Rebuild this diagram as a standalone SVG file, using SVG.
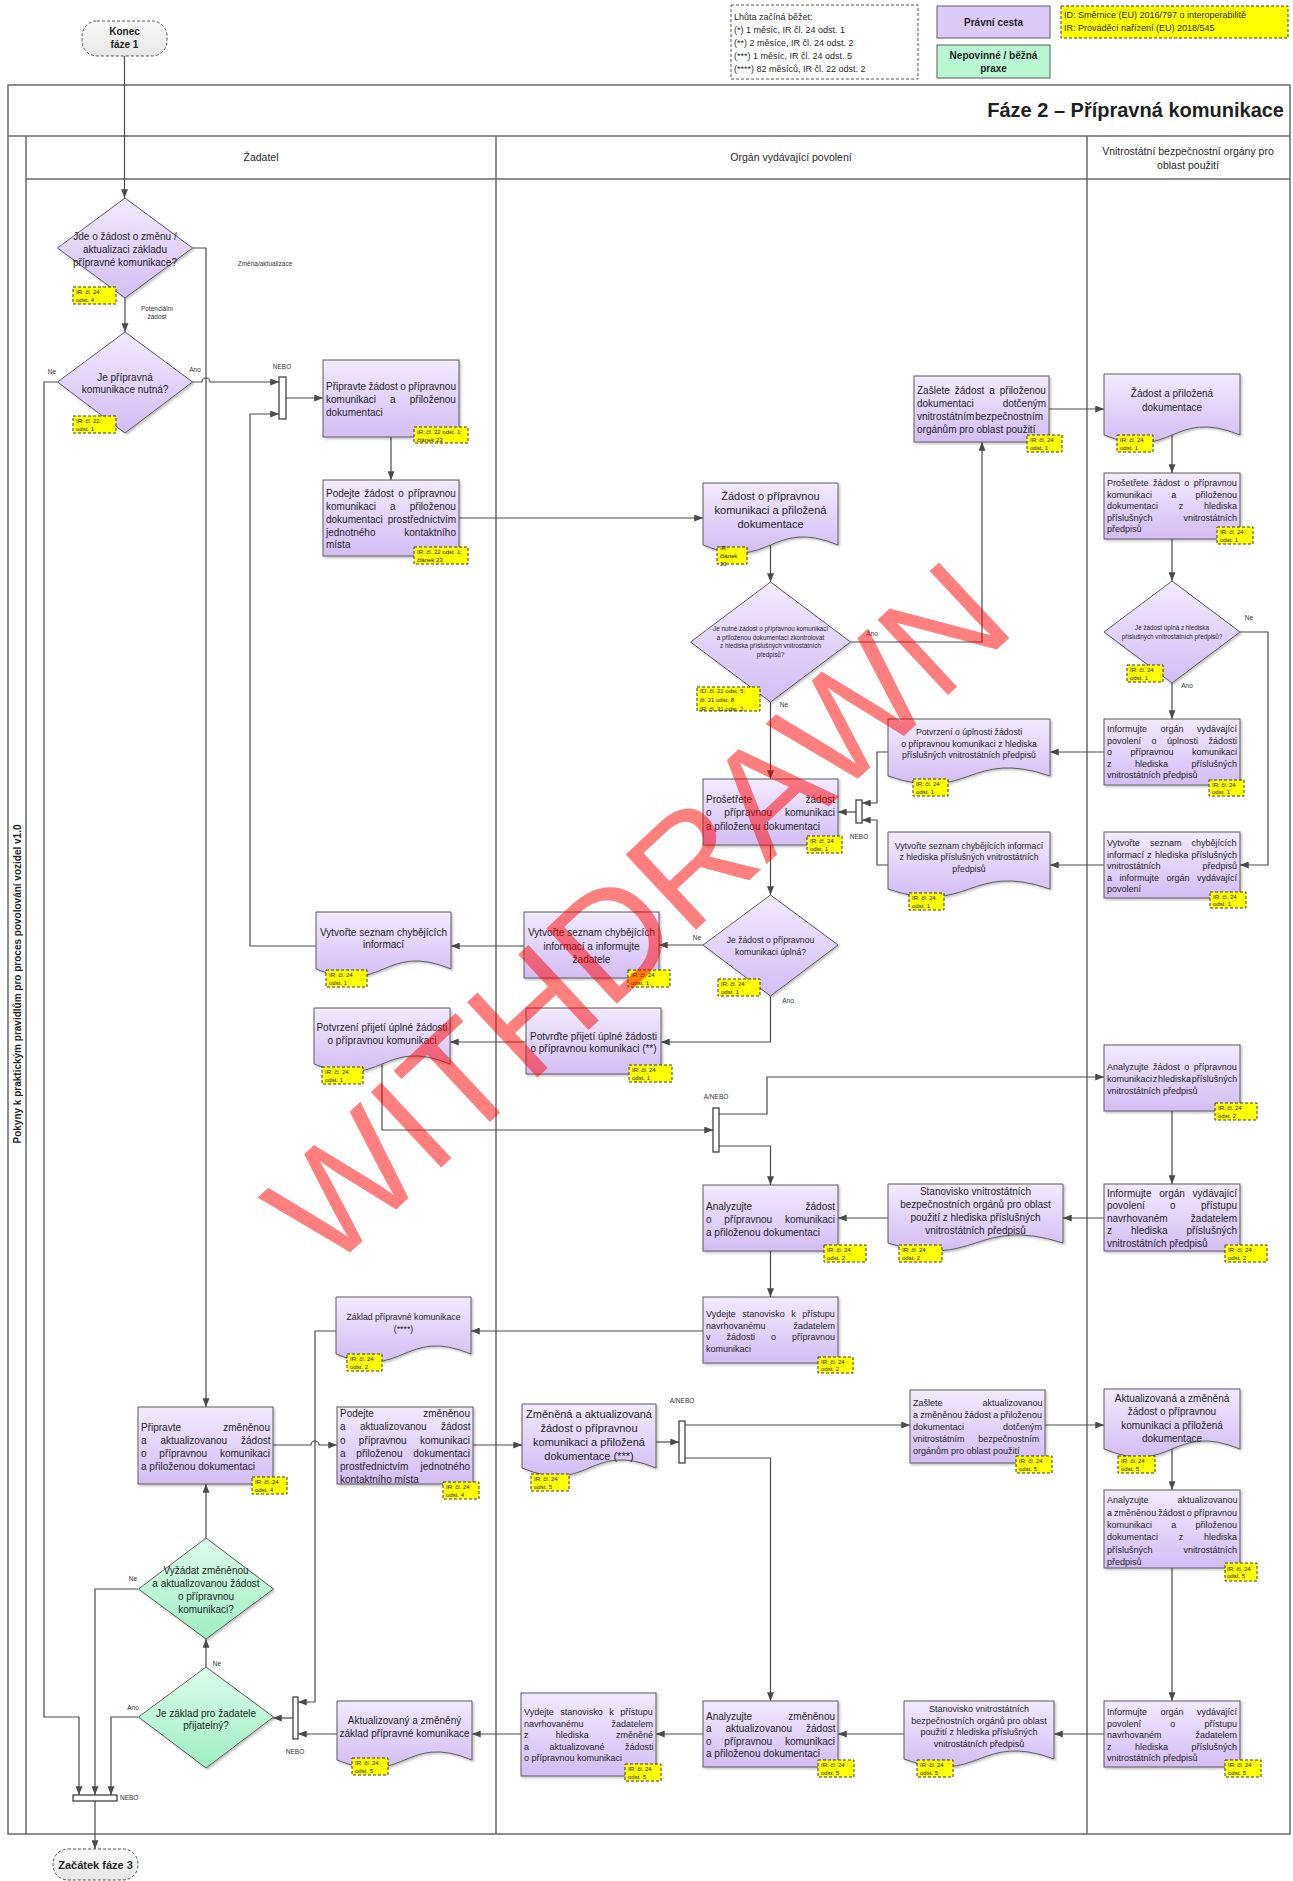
<svg xmlns="http://www.w3.org/2000/svg" width="1293" height="1881" viewBox="0 0 1293 1881">
<defs>
<linearGradient id="gp" x1="0" y1="0" x2="0" y2="1"><stop offset="0" stop-color="#f2eafe"/><stop offset="1" stop-color="#d3bdf5"/></linearGradient>
<linearGradient id="gg" x1="0" y1="0" x2="0" y2="1"><stop offset="0" stop-color="#dcfce9"/><stop offset="1" stop-color="#9eefc2"/></linearGradient>
<linearGradient id="gt" x1="0" y1="0" x2="0" y2="1"><stop offset="0" stop-color="#fbfbfb"/><stop offset="1" stop-color="#e6e6e6"/></linearGradient>
<marker id="ah" viewBox="0 0 10 8" refX="10" refY="4" markerWidth="9" markerHeight="7" markerUnits="userSpaceOnUse" orient="auto"><path d="M0 0L10 4L0 8z" fill="#4a4a4a"/></marker>
<filter id="sh" x="-10%" y="-10%" width="130%" height="130%"><feDropShadow dx="1.5" dy="1.5" stdDeviation="1" flood-color="#000" flood-opacity="0.25"/></filter>
</defs>
<style>
.t{font-family:"Liberation Sans",Arial,sans-serif;fill:#1f1f1f}
.b{font-weight:bold}
.f6{font-size:6px;fill:#222}
.l{font-size:6.5px;fill:#333}
.f63{font-size:6.3px}
.f87{font-size:8.7px}
.f9{font-size:9px}
.f10{font-size:10px}
.f105{font-size:10.5px}
.f11{font-size:11px}
.c{text-anchor:middle}
.n{fill:url(#gp);stroke:#5c5c5c;stroke-width:1;filter:url(#sh)}
.gn{fill:url(#gg);stroke:#5c5c5c;stroke-width:1;filter:url(#sh)}
.tg{fill:#ffff00;stroke:#3c3c3c;stroke-width:1;stroke-dasharray:3 2}
.cn{fill:none;stroke:#4a4a4a;stroke-width:1.2;marker-end:url(#ah)}
.ln{fill:none;stroke:#6a6a6a;stroke-width:1.5}
.bar{fill:#fff;stroke:#333;stroke-width:1.2}
.term{fill:url(#gt);stroke:#555;stroke-width:1;stroke-dasharray:3 2}
</style>

<g id="legend">
<rect x="731" y="5" width="187" height="74" fill="#fff" stroke="#555" stroke-dasharray="3 2"/>
<text class="t f9" x="734" y="20">Lhůta začíná běžet:</text>
<text class="t f9" x="734" y="33">(*) 1 měsíc, IR čl. 24 odst. 1</text>
<text class="t f9" x="734" y="46">(**) 2 měsíce, IR čl. 24 odst. 2</text>
<text class="t f9" x="734" y="59">(***) 1 měsíc, IR čl. 24 odst. 5</text>
<text class="t f9" x="734" y="72">(****) 82 měsíců, IR čl. 22 odst. 2</text>
<rect x="937" y="6" width="113" height="32" fill="#dccaf8" stroke="#5c5c5c"/>
<text class="t b f10 c" x="993.5" y="25.5">Právní cesta</text>
<rect x="937" y="45" width="113" height="33" fill="#b9f6d2" stroke="#5c5c5c"/>
<text class="t b f10 c" x="993.5" y="58.5">Nepovinné / běžná</text>
<text class="t b f10 c" x="993.5" y="72">praxe</text>
<rect x="1061" y="6" width="227" height="32" fill="#ffff00" stroke="#3c3c3c" stroke-dasharray="3 2"/>
<text class="t f9" x="1064" y="18">ID: Směrnice (EU) 2016/797 o interoperabilitě</text>
<text class="t f9" x="1064" y="31">IR: Prováděcí nařízení (EU) 2018/545</text>
</g>

<g id="pool">
<rect x="8" y="85" width="1282" height="1749" fill="#fff" stroke="#6a6a6a" stroke-width="1.5"/>
<path class="ln" d="M8 136H1290M26 136V1834M26 179H1290M496 136V1834M1087 136V1834"/>
<text class="t b" x="1284" y="117" font-size="20" text-anchor="end">Fáze 2 – Přípravná komunikace</text>
<text class="t b f10 c" transform="translate(20.5 984) rotate(-90)">Pokyny k praktickým pravidlům pro proces povolování vozidel v1.0</text>
<text class="t f105 c" x="261" y="161">Žadatel</text>
<text class="t f105 c" x="791" y="161">Orgán vydávající povolení</text>
<text class="t f105 c" x="1188" y="155">Vnitrostátní bezpečnostní orgány pro</text>
<text class="t f105 c" x="1188" y="169">oblast použití</text>
</g>

<g id="connectors">
<path class="cn" d="M124.5 56V198"/>
<path class="cn" d="M125 298V332"/>
<path class="cn" d="M192.5 248H206V1407"/>
<path class="cn" d="M192.5 382H202A4 4 0 0 1 210 382H279"/>
<path class="cn" d="M57.5 382H44V1717H79V1795"/>
<path class="cn" d="M286 398H323"/>
<path class="cn" d="M391 437V480"/>
<path class="cn" d="M459 518H703"/>
<path class="cn" d="M770.5 545V582"/>
<path class="cn" d="M850.5 642H982V442"/>
<path class="cn" d="M1049 409H1104"/>
<path class="cn" d="M1172 435V473"/>
<path class="cn" d="M1172 539V581"/>
<path class="cn" d="M1172 683V719"/>
<path class="cn" d="M1240 632H1268V865H1240"/>
<path class="cn" d="M1104 752H1050"/>
<path class="cn" d="M1104 865H1050"/>
<path class="cn" d="M888 752H877V803H862"/>
<path class="cn" d="M888 865H877V820H862"/>
<path class="cn" d="M856 812H838"/>
<path class="cn" d="M770.5 702V779"/>
<path class="cn" d="M770.5 845V895"/>
<path class="cn" d="M703 945H659"/>
<path class="cn" d="M524 946H451"/>
<path class="cn" d="M316 946H250V414H279"/>
<path class="cn" d="M770.5 996V1042H661"/>
<path class="cn" d="M526 1042H450"/>
<path class="cn" d="M382 1064V1130H713"/>
<path class="cn" d="M719 1114H767V1077H1104"/>
<path class="cn" d="M719 1146H770.5V1185"/>
<path class="cn" d="M1172 1111V1184"/>
<path class="cn" d="M1104 1218H1063"/>
<path class="cn" d="M888 1218H838"/>
<path class="cn" d="M770.5 1251V1297"/>
<path class="cn" d="M703 1331H471"/>
<path class="cn" d="M336 1331H315V1702H298"/>
<path class="cn" d="M273 1445H311A4 4 0 0 1 319 1445H337"/>
<path class="cn" d="M473 1445H522"/>
<path class="cn" d="M656 1442H679"/>
<path class="cn" d="M685 1425H910"/>
<path class="cn" d="M685 1458H770.5V1701"/>
<path class="cn" d="M1045 1425H1104"/>
<path class="cn" d="M1172 1449V1490"/>
<path class="cn" d="M1172 1568V1701"/>
<path class="cn" d="M1104 1734H1054"/>
<path class="cn" d="M904 1734H838"/>
<path class="cn" d="M703 1734H656"/>
<path class="cn" d="M521 1734H472"/>
<path class="cn" d="M337 1734H298"/>
<path class="cn" d="M293 1718H273"/>
<path class="cn" d="M206 1667V1639"/>
<path class="cn" d="M206 1538V1484"/>
<path class="cn" d="M138 1589H95V1795"/>
<path class="cn" d="M138 1717H111V1795"/>
<path class="cn" d="M95 1801V1849"/>
<text class="t l c" x="157" y="311">Potenciální</text>
<text class="t l c" x="157" y="319">žádost</text>
<text class="t l c" x="265" y="266">Změna/aktualizace</text>
<text class="t l c" x="195" y="372">Ano</text>
<text class="t l c" x="52" y="374">Ne</text>
<text class="t l c" x="282" y="369">NEBO</text>
<text class="t l c" x="872" y="636">Ano</text>
<text class="t l c" x="784" y="707">Ne</text>
<text class="t l c" x="1249" y="620">Ne</text>
<text class="t l c" x="1187" y="688">Ano</text>
<text class="t l c" x="859" y="839">NEBO</text>
<text class="t l c" x="697" y="940">Ne</text>
<text class="t l c" x="788" y="1003">Ano</text>
<text class="t l c" x="716" y="1099">A/NEBO</text>
<text class="t l c" x="682" y="1403">A/NEBO</text>
<text class="t l c" x="133" y="1581">Ne</text>
<text class="t l c" x="133" y="1710">Ano</text>
<text class="t l c" x="217" y="1666">Ne</text>
<text class="t l c" x="295" y="1754">NEBO</text>
<text class="t l" x="120" y="1800">NEBO</text>
</g>

<g id="n-konec">
<rect class="term" x="82" y="21" width="85" height="35" rx="15"/>
<text class="t b f10 c" x="124.5" y="35">Konec</text>
<text class="t b f10 c" x="124.5" y="48">fáze 1</text>
</g>

<g id="n-d1">
<polygon class="n" points="125,198 192.5,248 125,298 57.5,248"/>
<text class="t f10 c" x="125" y="239.5">Jde o žádost o změnu /</text>
<text class="t f10 c" x="125" y="252.5">aktualizaci základu</text>
<text class="t f10 c" x="125" y="265.5">přípravné komunikace?</text>
<rect class="tg" x="73" y="287" width="43" height="17"/>
<text class="t f6" x="76" y="294.3">IR: čl. 24</text><text class="t f6" x="76" y="301.8">odst. 4</text>
</g>

<g id="n-d2">
<polygon class="n" points="125,332 192.5,382 125,433 57.5,382"/>
<text class="t f10 c" x="125" y="380.5">Je přípravná</text>
<text class="t f10 c" x="125" y="392.5">komunikace nutná?</text>
<rect class="tg" x="73" y="416" width="43" height="17"/>
<text class="t f6" x="76" y="423.3">IR: čl. 22</text><text class="t f6" x="76" y="430.8">odst. 1</text>
</g>

<g id="bars">
<rect class="bar" x="279" y="377" width="7" height="42"/>
<rect class="bar" x="293" y="1697" width="5" height="42"/>
<rect class="bar" x="73" y="1795" width="44" height="6"/>
<rect class="bar" x="856" y="800" width="6" height="23"/>
<rect class="bar" x="713" y="1108" width="6" height="44"/>
<rect class="bar" x="679" y="1421" width="6" height="42"/>
</g>

<g id="n-pripravte">
<rect class="n" x="323" y="360" width="136" height="77"/>
<text class="t f10" x="326" y="389.5" style="word-spacing:-0.4px">Připravte žádost o přípravnou</text>
<text class="t f10" x="326" y="402.5" style="word-spacing:11.3px">komunikaci a přiloženou</text>
<text class="t f10" x="326" y="415.5">dokumentaci</text>
<rect class="tg" x="414" y="427" width="54" height="16"/>
<text class="t f6" x="417" y="434.3">IR: čl. 22 odst. 1;</text><text class="t f6" x="417" y="441.5">článek 23</text>
</g>

<g id="n-podejte">
<rect class="n" x="323" y="480" width="136" height="76"/>
<text class="t f10" x="326" y="496.5" style="word-spacing:1.6px">Podejte žádost o přípravnou</text>
<text class="t f10" x="326" y="509.5" style="word-spacing:11.3px">komunikaci a přiloženou</text>
<text class="t f10" x="326" y="522.5" style="word-spacing:2.2px">dokumentaci prostřednictvím</text>
<text class="t f10" x="326" y="535.5" style="word-spacing:26px">jednotného kontaktního</text>
<text class="t f10" x="326" y="548">místa</text>
<rect class="tg" x="414" y="547" width="54" height="17"/>
<text class="t f6" x="417" y="554.3">IR: čl. 22 odst. 1;</text><text class="t f6" x="417" y="561.8">článek 23</text>
</g>

<g id="n-doc-zadost">
<path class="n" d="M703 483H838V545C770.5 517 770.5 573 703 545Z"/>
<text class="t f11 c" x="770.5" y="500">Žádost o přípravnou</text>
<text class="t f11 c" x="770.5" y="513.5">komunikaci a přiložená</text>
<text class="t f11 c" x="770.5" y="527.5">dokumentace</text>
<rect class="tg" x="717" y="547" width="30" height="17"/>
<text class="t f6" x="720" y="549.5">IR:</text><text class="t f6" x="720" y="557.5">článek</text><text class="t f6" x="720" y="566">23</text>
</g>

<g id="n-d-nutne">
<polygon class="n" points="770.5,582 850.5,642 770.5,702 690.5,642"/>
<text class="t f63 c" x="770.5" y="631">Je nutné žádost o přípravnou komunikaci</text>
<text class="t f63 c" x="770.5" y="639.5">a přiloženou dokumentaci zkontrolovat</text>
<text class="t f63 c" x="770.5" y="648">z hlediska příslušných vnitrostátních</text>
<text class="t f63 c" x="770.5" y="656.5">předpisů?</text>
<rect class="tg" x="697" y="687" width="63" height="24"/>
<text class="t f6" x="700" y="693">ID: čl. 21 odst. 5;</text><text class="t f6" x="700" y="702">čl. 21 odst. 8</text><text class="t f6" x="700" y="710.5">IR: čl. 31 odst. 2</text>
</g>

<g id="n-zaslete">
<rect class="n" x="914" y="376" width="135" height="66"/>
<text class="t f10" x="917" y="393.5" style="word-spacing:2.2px">Zašlete žádost a přiloženou</text>
<text class="t f10" x="917" y="406.5" style="word-spacing:26.2px">dokumentaci dotčeným</text>
<text class="t f10" x="917" y="419.5" style="word-spacing:-1.8px">vnitrostátním bezpečnostním</text>
<text class="t f10" x="917" y="432.5">orgánům pro oblast použití</text>
<rect class="tg" x="1027" y="435" width="35" height="17"/>
<text class="t f6" x="1030" y="442.3">IR: čl. 24</text><text class="t f6" x="1030" y="449.8">odst. 1</text>
</g>

<g id="n-doc-vbo">
<path class="n" d="M1104 374H1240V435C1172 407 1172 463 1104 435Z"/>
<text class="t f10 c" x="1172" y="396.5">Žádost a přiložená</text>
<text class="t f10 c" x="1172" y="410.5">dokumentace</text>
<rect class="tg" x="1117" y="435" width="36" height="17"/>
<text class="t f6" x="1120" y="442.3">IR: čl. 24</text><text class="t f6" x="1120" y="449.8">odst. 1</text>
</g>

<g id="n-prosetrete-vbo">
<rect class="n" x="1104" y="473" width="136" height="66"/>
<text class="t f9" x="1107" y="486.2" style="word-spacing:2.1px">Prošetřete žádost o přípravnou</text>
<text class="t f9" x="1107" y="497.7" style="word-spacing:16.7px">komunikaci a přiloženou</text>
<text class="t f9" x="1107" y="509.2" style="word-spacing:18.2px">dokumentaci z hlediska</text>
<text class="t f9" x="1107" y="520.7" style="word-spacing:28.5px">příslušných vnitrostátních</text>
<text class="t f9" x="1107" y="532.2">předpisů</text>
<rect class="tg" x="1217" y="527" width="36" height="17"/>
<text class="t f6" x="1220" y="534.3">IR: čl. 24</text><text class="t f6" x="1220" y="541.8">odst. 1</text>
</g>

<g id="n-d-uplna-vbo">
<polygon class="n" points="1172,581 1240,632 1172,683 1104,632"/>
<text class="t f63 c" x="1172" y="630">Je žádost úplná z hlediska</text>
<text class="t f63 c" x="1172" y="638.5">příslušných vnitrostátních předpisů?</text>
<rect class="tg" x="1127" y="665" width="36" height="17"/>
<text class="t f6" x="1130" y="672.3">IR: čl. 24</text><text class="t f6" x="1130" y="679.8">odst. 1</text>
</g>

<g id="n-informujte-uplnost">
<rect class="n" x="1104" y="719" width="136" height="66"/>
<text class="t f9" x="1107" y="732.2" style="word-spacing:11px">Informujte orgán vydávající</text>
<text class="t f9" x="1107" y="743.7" style="word-spacing:8px">povolení o úplnosti žádosti</text>
<text class="t f9" x="1107" y="755.2" style="word-spacing:16px">o přípravnou komunikaci</text>
<text class="t f9" x="1107" y="766.7" style="word-spacing:21px">z hlediska příslušných</text>
<text class="t f9" x="1107" y="778.2">vnitrostátních předpisů</text>
<rect class="tg" x="1209" y="780" width="35" height="16"/>
<text class="t f6" x="1212" y="787">IR: čl. 24</text><text class="t f6" x="1212" y="794.3">odst. 1</text>
</g>

<g id="n-vytvorte-vbo">
<rect class="n" x="1104" y="832" width="136" height="66"/>
<text class="t f9" x="1107" y="846.2" style="word-spacing:7.7px">Vytvořte seznam chybějících</text>
<text class="t f9" x="1107" y="857.7" style="word-spacing:0.8px">informací z hlediska příslušných</text>
<text class="t f9" x="1107" y="869.2" style="word-spacing:39.5px">vnitrostátních předpisů</text>
<text class="t f9" x="1107" y="880.7" style="word-spacing:5px">a informujte orgán vydávající</text>
<text class="t f9" x="1107" y="892.2">povolení</text>
<rect class="tg" x="1210" y="892" width="36" height="16"/>
<text class="t f6" x="1213" y="899">IR: čl. 24</text><text class="t f6" x="1213" y="906.3">odst. 1</text>
</g>

<g id="n-doc-potvrzeni-uplnost">
<path class="n" d="M888 719H1050V776C969 748 969 804 888 776Z"/>
<text class="t f87 c" x="969" y="735">Potvrzení o úplnosti žádosti</text>
<text class="t f87 c" x="969" y="747">o přípravnou komunikaci z hlediska</text>
<text class="t f87 c" x="969" y="758">příslušných vnitrostátních předpisů</text>
<rect class="tg" x="913" y="779" width="35" height="17"/>
<text class="t f6" x="916" y="786.3">IR: čl. 24</text><text class="t f6" x="916" y="793.8">odst. 1</text>
</g>

<g id="n-doc-seznam-vbo">
<path class="n" d="M888 832H1050V889C969 861 969 917 888 889Z"/>
<text class="t f87 c" x="969" y="849">Vytvořte seznam chybějících informací</text>
<text class="t f87 c" x="969" y="860">z hlediska příslušných vnitrostátních</text>
<text class="t f87 c" x="969" y="872">předpisů</text>
<rect class="tg" x="909" y="893" width="35" height="17"/>
<text class="t f6" x="912" y="900.3">IR: čl. 24</text><text class="t f6" x="912" y="907.8">odst. 1</text>
</g>

<g id="n-prosetrete">
<rect class="n" x="703" y="779" width="135" height="66"/>
<text class="t f10" x="706" y="802.5" style="word-spacing:50.6px">Prošetřete žádost</text>
<text class="t f10" x="706" y="816" style="word-spacing:10px">o přípravnou komunikaci</text>
<text class="t f10" x="706" y="829.5">a přiloženou dokumentaci</text>
<rect class="tg" x="807" y="836" width="35" height="17"/>
<text class="t f6" x="810" y="843.3">IR: čl. 24</text><text class="t f6" x="810" y="850.8">odst. 1</text>
</g>

<g id="n-d-uplna">
<polygon class="n" points="770.5,895 838,945 770.5,996 703,945"/>
<text class="t c" font-size="8.6" x="770.5" y="943">Je žádost o přípravnou</text>
<text class="t c" font-size="8.6" x="770.5" y="955">komunikaci úplná?</text>
<rect class="tg" x="718" y="979" width="42" height="17"/>
<text class="t f6" x="721" y="986.3">IR: čl. 24</text><text class="t f6" x="721" y="993.8">odst. 1</text>
</g>

<g id="n-seznam-zadatele">
<rect class="n" x="524" y="912" width="135" height="66"/>
<text class="t f10 c" x="591.5" y="935.5">Vytvořte seznam chybějících</text>
<text class="t f10 c" x="591.5" y="949.5">informací a informujte</text>
<text class="t f10 c" x="591.5" y="962.5">žadatele</text>
<rect class="tg" x="628" y="970" width="42" height="17"/>
<text class="t f6" x="631" y="977.3">IR: čl. 24</text><text class="t f6" x="631" y="984.8">odst. 1</text>
</g>

<g id="n-doc-seznam">
<path class="n" d="M316 912H451V969C383.5 941 383.5 997 316 969Z"/>
<text class="t f10 c" x="383.5" y="935.5">Vytvořte seznam chybějících</text>
<text class="t f10 c" x="383.5" y="947.5">informací</text>
<rect class="tg" x="326" y="970" width="41" height="17"/>
<text class="t f6" x="329" y="977.3">IR: čl. 24</text><text class="t f6" x="329" y="984.8">odst. 1</text>
</g>

<g id="n-potvrdte">
<rect class="n" x="526" y="1008" width="135" height="66"/>
<text class="t f10 c" x="593.5" y="1039.5">Potvrďte přijetí úplné žádosti</text>
<text class="t f10 c" x="593.5" y="1051.5">o přípravnou komunikaci (**)</text>
<rect class="tg" x="629" y="1065" width="43" height="17"/>
<text class="t f6" x="632" y="1072.3">IR: čl. 24</text><text class="t f6" x="632" y="1079.8">odst. 1</text>
</g>

<g id="n-doc-potvrzeni">
<path class="n" d="M314 1008H450V1064C382 1036 382 1092 314 1064Z"/>
<text class="t f10 c" x="382" y="1030.5">Potvrzení přijetí úplné žádosti</text>
<text class="t f10 c" x="382" y="1043.5">o přípravnou komunikaci</text>
<rect class="tg" x="322" y="1067" width="41" height="17"/>
<text class="t f6" x="325" y="1074.3">IR: čl. 24</text><text class="t f6" x="325" y="1081.8">odst. 1</text>
</g>

<g id="n-analyzujte-vbo">
<rect class="n" x="1104" y="1045" width="136" height="66"/>
<text class="t f9" x="1107" y="1070.2" style="word-spacing:2.1px">Analyzujte žádost o přípravnou</text>
<text class="t f9" x="1107" y="1082.2" style="word-spacing:-1.8px">komunikaci z hlediska příslušných</text>
<text class="t f9" x="1107" y="1094.2">vnitrostátních předpisů</text>
<rect class="tg" x="1215" y="1103" width="42" height="17"/>
<text class="t f6" x="1218" y="1110.3">IR: čl. 24</text><text class="t f6" x="1218" y="1117.8">odst. 2</text>
</g>

<g id="n-informujte-pristup">
<rect class="n" x="1104" y="1184" width="136" height="67"/>
<text class="t f10" x="1107" y="1196.5" style="word-spacing:5px">Informujte orgán vydávající</text>
<text class="t f10" x="1107" y="1209" style="word-spacing:22.5px">povolení o přístupu</text>
<text class="t f10" x="1107" y="1221.5" style="word-spacing:20.5px">navrhovaném žadatelem</text>
<text class="t f10" x="1107" y="1234" style="word-spacing:16.1px">z hlediska příslušných</text>
<text class="t f10" x="1107" y="1246.5">vnitrostátních předpisů</text>
<rect class="tg" x="1225" y="1245" width="42" height="17"/>
<text class="t f6" x="1228" y="1252.3">IR: čl. 24</text><text class="t f6" x="1228" y="1259.8">odst. 2</text>
</g>

<g id="n-doc-stanovisko">
<path class="n" d="M888 1184H1063V1243C975.5 1215 975.5 1271 888 1243Z"/>
<text class="t f10 c" x="975.5" y="1194.5">Stanovisko vnitrostátních</text>
<text class="t f10 c" x="975.5" y="1207.5">bezpečnostních orgánů pro oblast</text>
<text class="t f10 c" x="975.5" y="1220.5">použití z hlediska příslušných</text>
<text class="t f10 c" x="975.5" y="1233.5">vnitrostátních předpisů</text>
<rect class="tg" x="899" y="1245" width="43" height="17"/>
<text class="t f6" x="902" y="1252.3">IR: čl. 24</text><text class="t f6" x="902" y="1259.8">odst. 2</text>
</g>

<g id="n-analyzujte">
<rect class="n" x="703" y="1185" width="135" height="66"/>
<text class="t f10" x="706" y="1209.5" style="word-spacing:50.6px">Analyzujte žádost</text>
<text class="t f10" x="706" y="1222.5" style="word-spacing:10px">o přípravnou komunikaci</text>
<text class="t f10" x="706" y="1235.5">a přiloženou dokumentaci</text>
<rect class="tg" x="824" y="1245" width="42" height="17"/>
<text class="t f6" x="827" y="1252.3">IR: čl. 24</text><text class="t f6" x="827" y="1259.8">odst. 2</text>
</g>

<g id="n-vydejte">
<rect class="n" x="703" y="1297" width="135" height="66"/>
<text class="t f9" x="706" y="1317.2" style="word-spacing:4px">Vydejte stanovisko k přístupu</text>
<text class="t f9" x="706" y="1328.7" style="word-spacing:25.5px">navrhovanému žadatelem</text>
<text class="t f9" x="706" y="1340.2" style="word-spacing:13.5px">v žádosti o přípravnou</text>
<text class="t f9" x="706" y="1351.7">komunikaci</text>
<rect class="tg" x="818" y="1357" width="35" height="16"/>
<text class="t f6" x="821" y="1364">IR: čl. 24</text><text class="t f6" x="821" y="1371.3">odst. 2</text>
</g>

<g id="n-doc-zaklad">
<path class="n" d="M336 1297H471V1354C403.5 1326 403.5 1382 336 1354Z"/>
<text class="t f87 c" x="403.5" y="1320">Základ přípravné komunikace</text>
<text class="t f87 c" x="403.5" y="1332">(****)</text>
<rect class="tg" x="347" y="1354" width="35" height="17"/>
<text class="t f6" x="350" y="1361.3">IR: čl. 24</text><text class="t f6" x="350" y="1368.8">odst. 2</text>
</g>

<g id="n-pripravte-zmenenou">
<rect class="n" x="138" y="1407" width="135" height="77"/>
<text class="t f10" x="141" y="1430.5" style="word-spacing:39.5px">Připravte změněnou</text>
<text class="t f10" x="141" y="1443.5" style="word-spacing:11.1px">a aktualizovanou žádost</text>
<text class="t f10" x="141" y="1456.5" style="word-spacing:10px">o přípravnou komunikaci</text>
<text class="t f10" x="141" y="1469.5">a přiloženou dokumentaci</text>
<rect class="tg" x="252" y="1477" width="35" height="17"/>
<text class="t f6" x="255" y="1484.3">IR: čl. 24</text><text class="t f6" x="255" y="1491.8">odst. 4</text>
</g>

<g id="n-podejte-zmenenou">
<rect class="n" x="337" y="1407" width="136" height="77"/>
<text class="t f10" x="340" y="1416.5" style="word-spacing:46.6px">Podejte změněnou</text>
<text class="t f10" x="340" y="1430" style="word-spacing:11.6px">a aktualizovanou žádost</text>
<text class="t f10" x="340" y="1443.5" style="word-spacing:10.5px">o přípravnou komunikaci</text>
<text class="t f10" x="340" y="1456.5" style="word-spacing:8px">a přiloženou dokumentaci</text>
<text class="t f10" x="340" y="1469.5" style="word-spacing:9.4px">prostřednictvím jednotného</text>
<text class="t f10" x="340" y="1482.5">kontaktního místa</text>
<rect class="tg" x="443" y="1482" width="36" height="17"/>
<text class="t f6" x="446" y="1489.3">IR: čl. 24</text><text class="t f6" x="446" y="1496.8">odst. 4</text>
</g>

<g id="n-doc-zmenena">
<path class="n" d="M522 1404H656V1468C589 1440 589 1496 522 1468Z"/>
<text class="t f11 c" x="589" y="1418">Změněná a aktualizovaná</text>
<text class="t f11 c" x="589" y="1432">žádost o přípravnou</text>
<text class="t f11 c" x="589" y="1446">komunikaci a přiložená</text>
<text class="t f11 c" x="589" y="1460">dokumentace (***)</text>
<rect class="tg" x="531" y="1474" width="38" height="17"/>
<text class="t f6" x="534" y="1481.3">IR: čl. 24</text><text class="t f6" x="534" y="1488.8">odst. 5</text>
</g>

<g id="n-zaslete-aktualizovanou">
<rect class="n" x="910" y="1390" width="135" height="73"/>
<text class="t f9" x="913" y="1406.2" style="word-spacing:37.5px">Zašlete aktualizovanou</text>
<text class="t f9" x="913" y="1418.2" style="word-spacing:-0.3px">a změněnou žádost a přiloženou</text>
<text class="t f9" x="913" y="1430.2" style="word-spacing:36.5px">dokumentaci dotčeným</text>
<text class="t f9" x="913" y="1442.2" style="word-spacing:11.3px">vnitrostátním bezpečnostním</text>
<text class="t f9" x="913" y="1454.2">orgánům pro oblast použití</text>
<rect class="tg" x="1016" y="1456" width="36" height="17"/>
<text class="t f6" x="1019" y="1463.3">IR: čl. 24</text><text class="t f6" x="1019" y="1470.8">odst. 5</text>
</g>

<g id="n-doc-aktualizovana">
<path class="n" d="M1104 1389H1240V1449C1172 1421 1172 1477 1104 1449Z"/>
<text class="t f10 c" x="1172" y="1401.5">Aktualizovaná a změněná</text>
<text class="t f10 c" x="1172" y="1415">žádost o přípravnou</text>
<text class="t f10 c" x="1172" y="1428.5">komunikaci a přiložená</text>
<text class="t f10 c" x="1172" y="1442">dokumentace</text>
<rect class="tg" x="1118" y="1456" width="37" height="17"/>
<text class="t f6" x="1121" y="1463.3">IR: čl. 24</text><text class="t f6" x="1121" y="1470.8">odst. 5</text>
</g>

<g id="n-analyzujte-aktualizovanou">
<rect class="n" x="1104" y="1490" width="136" height="78"/>
<text class="t f9" x="1107" y="1503.2" style="word-spacing:26.5px">Analyzujte aktualizovanou</text>
<text class="t f9" x="1107" y="1515.6" style="word-spacing:-0.4px">a změněnou žádost o přípravnou</text>
<text class="t f9" x="1107" y="1528" style="word-spacing:16.7px">komunikaci a přiloženou</text>
<text class="t f9" x="1107" y="1540.4" style="word-spacing:18.2px">dokumentaci z hlediska</text>
<text class="t f9" x="1107" y="1552.8" style="word-spacing:28.5px">příslušných vnitrostátních</text>
<text class="t f9" x="1107" y="1565.2">předpisů</text>
<rect class="tg" x="1225" y="1563" width="32" height="18"/>
<text class="t f6" x="1227" y="1570.5">IR: čl. 24</text><text class="t f6" x="1227" y="1578.3">odst. 5</text>
</g>

<g id="n-informujte-pristup-2">
<rect class="n" x="1104" y="1701" width="136" height="66"/>
<text class="t f9" x="1107" y="1715.2" style="word-spacing:11px">Informujte orgán vydávající</text>
<text class="t f9" x="1107" y="1726.7" style="word-spacing:26.7px">povolení o přístupu</text>
<text class="t f9" x="1107" y="1738.2" style="word-spacing:31.5px">navrhovaném žadatelem</text>
<text class="t f9" x="1107" y="1749.7" style="word-spacing:21px">z hlediska příslušných</text>
<text class="t f9" x="1107" y="1761.2">vnitrostátních předpisů</text>
<rect class="tg" x="1225" y="1760" width="36" height="17"/>
<text class="t f6" x="1228" y="1767.3">IR: čl. 24</text><text class="t f6" x="1228" y="1774.8">odst. 5</text>
</g>

<g id="n-doc-stanovisko-2">
<path class="n" d="M904 1701H1054V1759C979 1731 979 1787 904 1759Z"/>
<text class="t f9 c" x="979" y="1712">Stanovisko vnitrostátních</text>
<text class="t f9 c" x="979" y="1724">bezpečnostních orgánů pro oblast</text>
<text class="t f9 c" x="979" y="1735">použití z hlediska příslušných</text>
<text class="t f9 c" x="979" y="1747">vnitrostátních předpisů</text>
<rect class="tg" x="917" y="1760" width="36" height="17"/>
<text class="t f6" x="920" y="1767.3">IR: čl. 24</text><text class="t f6" x="920" y="1774.8">odst. 5</text>
</g>

<g id="n-analyzujte-zmenenou">
<rect class="n" x="703" y="1701" width="135" height="66"/>
<text class="t f10" x="706" y="1719.5" style="word-spacing:33.4px">Analyzujte změněnou</text>
<text class="t f10" x="706" y="1732" style="word-spacing:11.1px">a aktualizovanou žádost</text>
<text class="t f10" x="706" y="1744.5" style="word-spacing:10px">o přípravnou komunikaci</text>
<text class="t f10" x="706" y="1757">a přiloženou dokumentaci</text>
<rect class="tg" x="818" y="1760" width="36" height="17"/>
<text class="t f6" x="821" y="1767.3">IR: čl. 24</text><text class="t f6" x="821" y="1774.8">odst. 5</text>
</g>

<g id="n-vydejte-zmenene">
<rect class="n" x="521" y="1693" width="135" height="83"/>
<text class="t f9" x="524" y="1715" style="word-spacing:4px">Vydejte stanovisko k přístupu</text>
<text class="t f9" x="524" y="1726.5" style="word-spacing:25.5px">navrhovanému žadatelem</text>
<text class="t f9" x="524" y="1738" style="word-spacing:24.7px">z hlediska změněné</text>
<text class="t f9" x="524" y="1749.5" style="word-spacing:18px">a aktualizované žádosti</text>
<text class="t f9" x="524" y="1761">o přípravnou komunikaci</text>
<rect class="tg" x="625" y="1764" width="36" height="17"/>
<text class="t f6" x="628" y="1771.3">IR: čl. 24</text><text class="t f6" x="628" y="1778.8">odst. 5</text>
</g>

<g id="n-doc-zaklad-aktualizovany">
<path class="n" d="M337 1701H472V1760C404.5 1732 404.5 1788 337 1760Z"/>
<text class="t f10 c" x="404.5" y="1723.5">Aktualizovaný a změněný</text>
<text class="t f10 c" x="404.5" y="1736.5">základ přípravné komunikace</text>
<rect class="tg" x="352" y="1758" width="36" height="17"/>
<text class="t f6" x="355" y="1765.3">IR: čl. 24</text><text class="t f6" x="355" y="1772.8">odst. 5</text>
</g>

<g id="n-d-vyzadat">
<polygon class="gn" points="206,1538 273.5,1589 206,1639 138.5,1589"/>
<text class="t f10 c" x="206" y="1573.5">Vyžádat změněnou</text>
<text class="t f10 c" x="206" y="1586.5">a aktualizovanou žádost</text>
<text class="t f10 c" x="206" y="1599.5">o přípravnou</text>
<text class="t f10 c" x="206" y="1612.5">komunikaci?</text>
</g>

<g id="n-d-zaklad">
<polygon class="gn" points="206,1667 273.5,1717 206,1768 138.5,1717"/>
<text class="t f10 c" x="206" y="1716.5">Je základ pro žadatele</text>
<text class="t f10 c" x="206" y="1728.5">přijatelný?</text>
</g>

<g id="n-zacatek">
<rect class="term" x="53" y="1849" width="85" height="31" rx="15"/>
<text class="t b c" font-size="11" x="95.5" y="1868.5">Začátek fáze 3</text>
</g>

<text class="t c" x="0" y="54" font-size="150" style="fill:#ff0000;fill-opacity:0.5" transform="translate(636 912) rotate(-43)">WITHDRAWN</text>
</svg>
